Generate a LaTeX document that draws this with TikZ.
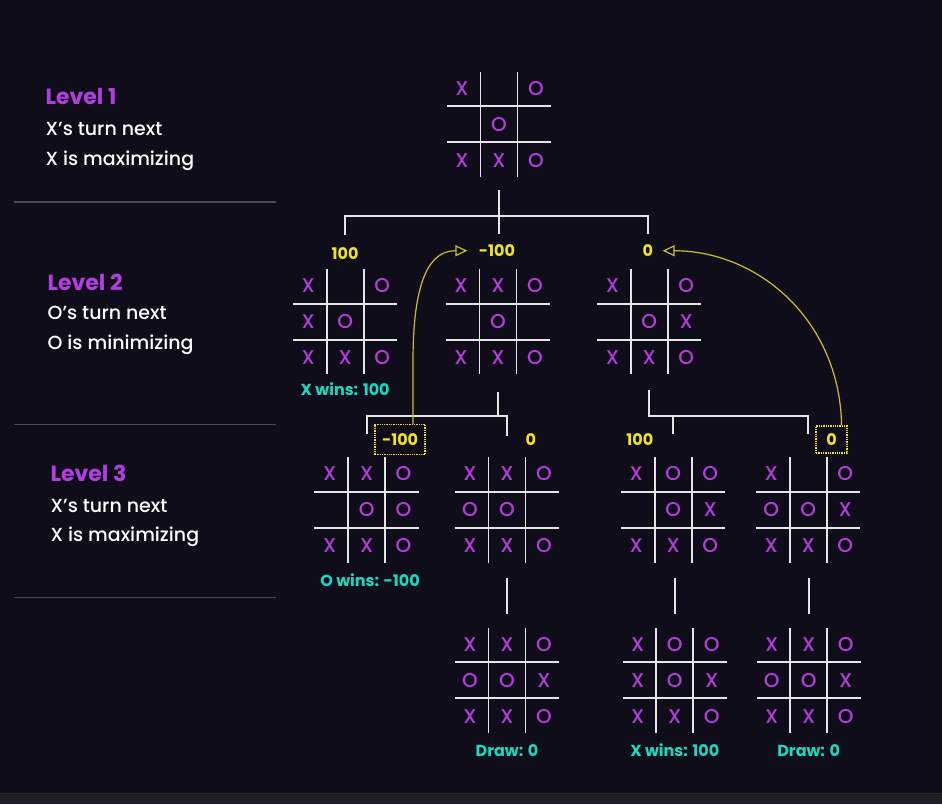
\documentclass[tikz,border=0pt]{standalone}
\usepackage{fontspec}
\setmainfont{Poppins}
\newfontfamily\popmed{Poppins Medium}
\usetikzlibrary{arrows.meta,positioning}
\definecolor{bg}{HTML}{100D1A}
\definecolor{bgstrip}{HTML}{1D1D24}
\definecolor{bgstripline}{HTML}{2A2A33}
\definecolor{xopurple}{HTML}{B43CDC}
\definecolor{lvpurple}{HTML}{B23EE2}
\definecolor{wincyan}{HTML}{18D9C2}
\definecolor{valyellow}{HTML}{F0E41E}
\definecolor{pickyellow}{HTML}{C9C12A}
\definecolor{linewhite}{HTML}{E6E6E6}
\definecolor{sepgray}{HTML}{4A4858}
\tikzset{
  boardbox/.style={inner sep=0pt, minimum width=104pt, minimum height=105pt},
  gridline/.style={draw=linewhite, line width=1.8pt},
  xo/.style={text=xopurple, font=\fontsize{20}{20}\popmed, inner sep=0pt},
  tree/.style={draw=linewhite, line width=1.8pt},
  val/.style={text=valyellow, font=\fontsize{16}{16}\selectfont\bfseries},
  res/.style={text=wincyan, font=\fontsize{16}{16}\selectfont\bfseries},
  lvl/.style={text=lvpurple, font=\fontsize{22}{22}\selectfont\bfseries, anchor=base west, inner sep=0pt},
  turn/.style={text=white, font=\fontsize{19}{19}\popmed, anchor=base west, inner sep=0pt},
  pickbox/.style={draw=valyellow, densely dotted, line width=1.3pt},
  pick/.style={draw=pickyellow, line width=1.2pt, -{Triangle[open,length=12pt,width=11pt]}}
}
\newcommand{\board}[4]{%
  \node[boardbox] (#1) at (#2,#3) {};
  \draw[gridline] ([xshift=-18.5pt]#1.north) -- ([xshift=-18.5pt]#1.south);
  \draw[gridline] ([xshift=18.5pt]#1.north) -- ([xshift=18.5pt]#1.south);
  \draw[gridline] ([yshift=18pt]#1.west) -- ([yshift=18pt]#1.east);
  \draw[gridline] ([yshift=-18pt]#1.west) -- ([yshift=-18pt]#1.east);
  \foreach \m [count=\i from 0] in {#4}{%
    \pgfmathtruncatemacro{\c}{mod(\i,3)}%
    \pgfmathtruncatemacro{\r}{div(\i,3)}%
    \node[xo] at ([shift={(\c*37-37,\r*36-36)}]#1) {\m};}%
}
\begin{document}
\begin{tikzpicture}[x=1pt,y=-1pt]
\fill[bg] (0,0) rectangle (942,805);
\fill[bgstrip] (0,794) rectangle (942,805);
\draw[bgstripline, line width=1pt] (0,794) -- (942,794);

\node[lvl] at (45,105) {Level 1};
\node[turn] at (45,136) {X’s turn next};
\node[turn] at (45,166) {X is maximizing};
\draw[sepgray, line width=1.5pt] (14,202) -- (276,202);
\node[lvl] at (47,291) {Level 2};
\node[turn] at (47,320) {O’s turn next};
\node[turn] at (47,350) {O is minimizing};
\draw[sepgray, line width=1.5pt] (14,425) -- (276,425);
\node[lvl] at (50,482) {Level 3};
\node[turn] at (50,513) {X’s turn next};
\node[turn] at (50,542) {X is maximizing};
\draw[sepgray, line width=1.5pt] (14,598) -- (276,598);

\board{root}{499}{124.5}{X,,O,,O,,X,X,O}

\board{a2}{345}{322}{X,,O,X,O,,X,X,O}
\board{b2}{498}{322}{X,X,O,,O,,X,X,O}
\board{c2}{649.5}{322}{X,,O,,O,X,X,X,O}
\node[val] (v2a) at (345,254) {100};
\node[val] (v2b) at (497,251) {-100};
\node[val] (v2c) at (648,251) {0};
\node[res] (ra2) at (345,390) {X wins: 100};

\board{d3}{366.5}{510.5}{X,X,O,,O,O,X,X,O}
\board{e3}{507}{510.5}{X,X,O,O,O,,X,X,O}
\board{f3}{673.5}{510.5}{X,O,O,,O,X,X,X,O}
\board{g3}{808.5}{510.5}{X,,O,O,O,X,X,X,O}
\node[val, pickbox, minimum width=50pt, minimum height=30pt] (v3d) at (400,440) {-100};
\node[val] (v3e) at (531,440) {0};
\node[val] (v3f) at (640,440) {100};
\node[val, pickbox, minimum width=31pt, minimum height=27pt] (v3g) at (832,440) {0};
\node[res] (rd3) at (370,581) {O wins: -100};

\board{h4}{507}{681}{X,X,O,O,O,X,X,X,O}
\board{i4}{675}{681}{X,O,O,X,O,X,X,X,O}
\board{j4}{809}{681}{X,X,O,O,O,X,X,X,O}
\node[res] (rh4) at (507,751) {Draw: 0};
\node[res] (ri4) at (675,751) {X wins: 100};
\node[res] (rj4) at (809,751) {Draw: 0};

\draw[tree] ([yshift=-13pt]root.south) -- ++(0,26) coordinate (j1);
\draw[tree] ([yshift=9pt]v2a.north) |- (j1) -| ([yshift=7pt]v2c.north);
\draw[tree] (j1) -- ([yshift=7pt]v2b.north -| j1);

\draw[tree] ([yshift=-18pt]b2.south) -- ++(0,24) coordinate (j2);
\draw[tree] ([yshift=23pt]d3.north) |- (j2) -| ([yshift=21pt]e3.north);
\draw[tree] ([yshift=-16pt]c2.south) -- ++(0,26) coordinate (j3) -| ([yshift=23pt]g3.north);
\draw[tree] (f3.north |- j3) -- ([yshift=23pt]f3.north);

\draw[tree] ([yshift=14pt]h4.north) -- ++(0,-36);
\draw[tree] ([yshift=14pt]i4.north) -- ++(0,-36);
\draw[tree] ([yshift=14pt]j4.north) -- ++(0,-36);

\draw[pick] ([xshift=13pt]v3d.north) -- ++(0,-70) .. controls +(1,-90) and +(-30,0) .. ([xshift=-8pt]v2b.west);
\draw[pick] ([xshift=10pt]v3g.north) .. controls +(-2,-106) and +(95,0) .. ([xshift=6pt]v2c.east);
\end{tikzpicture}
\end{document}
